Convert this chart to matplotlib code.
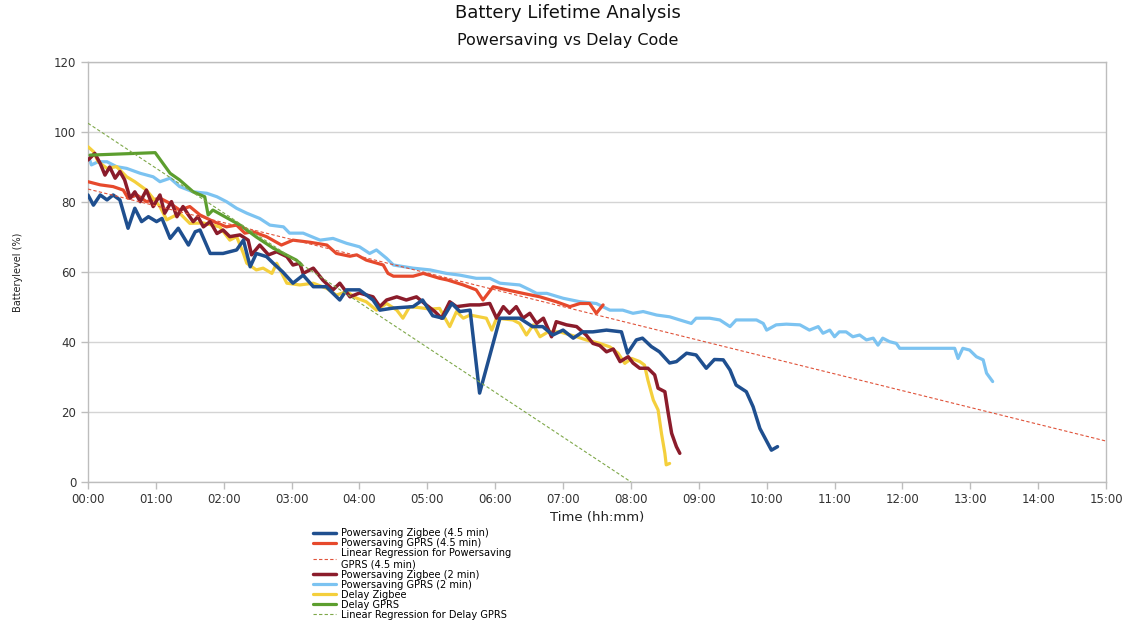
import matplotlib
matplotlib.use("Agg")
import matplotlib.pyplot as plt
import numpy as np

# (hours, battery %)
ps_zigbee_45 = [
    (0.00, 82.0), (0.08, 79.1), (0.18, 82.0), (0.28, 80.6), (0.37, 82.0), (0.47, 80.6),
    (0.59, 72.5), (0.69, 78.2), (0.79, 74.4), (0.89, 75.8), (1.01, 74.4), (1.09, 75.3),
    (1.21, 69.6), (1.33, 72.5), (1.48, 67.7), (1.58, 71.5), (1.65, 72.0), (1.80, 65.3),
    (1.99, 65.3), (2.19, 66.3), (2.29, 69.1), (2.39, 61.5), (2.48, 65.3), (2.63, 64.4),
    (2.73, 62.5), (2.87, 60.0), (3.02, 56.8), (3.17, 59.1), (3.32, 55.8), (3.51, 55.8),
    (3.71, 52.0), (3.81, 54.9), (4.00, 54.9), (4.20, 52.0), (4.30, 49.1), (4.50, 49.7),
    (4.79, 50.1), (4.93, 52.0), (5.08, 47.5), (5.23, 46.8), (5.36, 51.0), (5.48, 48.7),
    (5.63, 49.1), (5.77, 25.4), (6.07, 46.8), (6.36, 46.8), (6.55, 44.4), (6.70, 44.4),
    (6.85, 42.0), (7.00, 43.4), (7.15, 41.1), (7.29, 42.9), (7.44, 42.9), (7.64, 43.4),
    (7.86, 42.9), (7.95, 36.8), (8.08, 40.6), (8.17, 41.1), (8.30, 38.7), (8.42, 37.2),
    (8.57, 34.0), (8.67, 34.4), (8.82, 36.8), (8.96, 36.3), (9.11, 32.5), (9.23, 35.0),
    (9.36, 34.9), (9.46, 32.0), (9.55, 27.7), (9.70, 25.8), (9.80, 21.5), (9.90, 15.3),
    (10.07, 9.1), (10.16, 10.1),
]

ps_gprs_45 = [
    (0.00, 85.8), (0.18, 84.9), (0.37, 84.4), (0.52, 83.4), (0.59, 81.1), (0.72, 82.0),
    (0.86, 80.1), (1.06, 81.1), (1.21, 79.6), (1.35, 77.7), (1.50, 78.7), (1.65, 76.3),
    (1.85, 74.4), (2.04, 72.9), (2.19, 73.4), (2.31, 71.1), (2.43, 71.5), (2.63, 70.1),
    (2.85, 67.7), (3.02, 69.1), (3.27, 68.5), (3.52, 67.7), (3.66, 65.3), (3.86, 64.5),
    (3.96, 64.9), (4.10, 63.4), (4.35, 62.0), (4.42, 59.6), (4.50, 58.8), (4.79, 58.8),
    (4.94, 59.6), (5.18, 58.2), (5.30, 57.7), (5.53, 56.3), (5.72, 54.9), (5.82, 52.0),
    (5.97, 55.8), (6.17, 54.9), (6.41, 53.9), (6.66, 52.9), (6.90, 51.5), (7.10, 50.1),
    (7.25, 51.0), (7.39, 51.0), (7.49, 48.2), (7.59, 50.6),
]

ps_zigbee_2 = [
    (0.00, 92.0), (0.10, 93.9), (0.18, 91.0), (0.25, 87.7), (0.32, 90.0), (0.40, 86.8),
    (0.47, 88.7), (0.54, 86.3), (0.62, 81.1), (0.69, 82.9), (0.77, 80.1), (0.86, 83.4),
    (0.96, 78.7), (1.06, 82.0), (1.13, 76.8), (1.23, 80.1), (1.31, 75.8), (1.40, 78.7),
    (1.48, 76.3), (1.55, 74.4), (1.62, 75.8), (1.70, 72.9), (1.80, 74.4), (1.90, 71.0),
    (1.99, 72.0), (2.09, 70.1), (2.24, 70.6), (2.36, 69.1), (2.41, 64.9), (2.53, 67.7),
    (2.66, 64.9), (2.78, 65.8), (2.93, 64.4), (3.02, 62.0), (3.12, 62.5), (3.17, 59.6),
    (3.32, 61.1), (3.46, 57.7), (3.61, 54.9), (3.71, 56.8), (3.86, 52.9), (4.00, 54.0),
    (4.20, 52.9), (4.30, 50.1), (4.40, 52.0), (4.55, 52.9), (4.69, 52.0), (4.84, 52.9),
    (4.99, 50.5), (5.11, 48.7), (5.21, 46.8), (5.33, 51.5), (5.43, 50.1), (5.63, 50.6),
    (5.77, 50.6), (5.92, 51.0), (6.02, 46.8), (6.12, 50.1), (6.21, 48.2), (6.31, 50.1),
    (6.41, 46.8), (6.51, 48.2), (6.61, 45.3), (6.71, 46.8), (6.83, 41.5), (6.90, 45.8),
    (7.05, 44.9), (7.20, 44.4), (7.34, 42.0), (7.44, 39.6), (7.54, 39.0), (7.64, 37.2),
    (7.74, 38.0), (7.84, 34.4), (7.96, 35.8), (8.03, 34.0), (8.13, 32.5), (8.25, 32.5),
    (8.35, 30.6), (8.40, 26.8), (8.50, 25.8), (8.55, 19.6), (8.60, 13.9), (8.67, 10.1),
    (8.72, 8.2),
]

ps_gprs_2 = [
    (0.00, 93.4), (0.05, 90.6), (0.15, 91.5), (0.28, 91.5), (0.42, 90.1), (0.57, 89.6),
    (0.77, 88.2), (0.96, 87.2), (1.06, 85.8), (1.21, 86.8), (1.35, 84.4), (1.55, 82.9),
    (1.75, 82.5), (1.90, 81.5), (2.04, 80.1), (2.19, 78.2), (2.34, 76.8), (2.53, 75.3),
    (2.68, 73.4), (2.88, 72.9), (2.97, 71.1), (3.17, 71.1), (3.42, 69.1), (3.61, 69.6),
    (3.81, 68.2), (4.00, 67.2), (4.15, 65.3), (4.25, 66.3), (4.40, 63.9), (4.50, 62.0),
    (4.79, 61.1), (5.04, 60.6), (5.28, 59.6), (5.48, 59.1), (5.72, 58.2), (5.92, 58.2),
    (6.07, 56.8), (6.36, 56.3), (6.51, 54.9), (6.61, 53.9), (6.76, 53.9), (7.00, 52.5),
    (7.25, 51.5), (7.49, 51.0), (7.69, 49.1), (7.88, 49.1), (8.03, 48.2), (8.18, 48.7),
    (8.38, 47.7), (8.57, 47.2), (8.72, 46.3), (8.89, 45.3), (8.96, 46.8), (9.16, 46.8),
    (9.31, 46.3), (9.46, 44.4), (9.55, 46.3), (9.85, 46.3), (9.95, 45.3), (10.00, 43.4),
    (10.14, 44.9), (10.29, 45.1), (10.49, 44.9), (10.63, 43.4), (10.76, 44.4), (10.83, 42.5),
    (10.93, 43.4), (11.00, 41.5), (11.07, 42.9), (11.17, 42.9), (11.27, 41.5), (11.37, 42.0),
    (11.47, 40.6), (11.57, 41.1), (11.64, 39.1), (11.71, 41.1), (11.81, 40.1), (11.91, 39.6),
    (11.96, 38.2), (12.06, 38.2), (12.45, 38.2), (12.77, 38.2), (12.82, 35.3), (12.89, 38.2),
    (12.99, 37.7), (13.09, 35.8), (13.19, 34.9), (13.24, 31.1), (13.33, 28.7),
]

delay_zigbee = [
    (0.00, 95.8), (0.08, 94.4), (0.15, 91.5), (0.28, 89.6), (0.42, 90.1), (0.57, 87.2),
    (0.69, 85.8), (0.86, 83.4), (1.06, 78.7), (1.16, 74.9), (1.35, 76.8), (1.50, 73.9),
    (1.70, 74.0), (1.94, 72.9), (2.09, 69.1), (2.19, 70.1), (2.29, 65.3), (2.34, 62.5),
    (2.48, 60.6), (2.58, 61.1), (2.71, 59.6), (2.78, 62.5), (2.93, 56.8), (3.12, 56.3),
    (3.32, 56.8), (3.52, 55.3), (3.66, 53.4), (3.81, 54.4), (3.96, 52.5), (4.10, 51.5),
    (4.25, 49.1), (4.40, 51.0), (4.55, 49.1), (4.64, 46.8), (4.74, 50.1), (4.89, 49.8),
    (5.04, 49.4), (5.18, 49.6), (5.33, 44.4), (5.43, 48.7), (5.53, 46.8), (5.63, 47.7),
    (5.87, 46.8), (5.95, 43.4), (6.02, 46.8), (6.26, 46.3), (6.36, 45.3), (6.46, 42.0),
    (6.56, 44.9), (6.66, 41.5), (6.78, 42.9), (6.95, 42.9), (7.20, 41.5), (7.34, 40.6),
    (7.54, 39.6), (7.69, 38.6), (7.81, 36.8), (7.91, 33.9), (8.01, 35.3), (8.13, 34.4),
    (8.20, 33.4), (8.25, 29.1), (8.33, 23.4), (8.40, 20.6), (8.45, 13.9), (8.50, 8.2),
    (8.52, 4.9), (8.57, 5.3),
]

delay_gprs = [
    (0.03, 93.4), (0.99, 94.1), (1.21, 88.2), (1.35, 86.3), (1.55, 82.9), (1.72, 81.5),
    (1.77, 76.3), (1.84, 77.7), (2.24, 73.4), (2.48, 70.0), (2.73, 66.8), (3.07, 63.4),
    (3.15, 62.0),
]

# linear regressions (intercept, slope per hour)
reg_ps_gprs = (83.7, -4.8)
reg_delay_gprs = (102.5, -12.81)

x_ticks = list(range(16))
x_labels = ["%02d:00" % h for h in x_ticks]
y_ticks = [0, 20, 40, 60, 80, 100, 120]

fig = plt.figure(figsize=(11.35, 6.3), dpi=100)
ax = fig.add_axes([88 / 1135, 1 - 482 / 630, 1018 / 1135, 420 / 630])

def draw(series, color, lw, z, label):
    t = np.array([p[0] for p in series])
    v = np.array([p[1] for p in series])
    return ax.plot(t, v, color=color, lw=lw, zorder=z, label=label,
                   solid_joinstyle="round", solid_capstyle="round")[0]

h1 = draw(ps_zigbee_45, "#1f4f8f", 2.5, 6, "Powersaving Zigbee (4.5 min)")
h2 = draw(ps_gprs_45, "#e6492c", 2.3, 3, "Powersaving GPRS (4.5 min)")

t_end = 15.0
t_reg = np.array([0.0, t_end])
h3, = ax.plot(t_reg, reg_ps_gprs[0] + reg_ps_gprs[1] * t_reg, color="#e0533a",
              lw=0.8, ls=(0, (3, 2)), zorder=8,
              label="Linear Regression for Powersaving\nGPRS (4.5 min)")

h4 = draw(ps_zigbee_2, "#8b1c2b", 2.5, 5, "Powersaving Zigbee (2 min)")
h5 = draw(ps_gprs_2, "#7cc3f1", 2.3, 2, "Powersaving GPRS (2 min)")
h6 = draw(delay_zigbee, "#f4cf3c", 2.3, 4, "Delay Zigbee")
h7 = draw(delay_gprs, "#5c9e2e", 2.3, 7, "Delay GPRS")

t_zero = -reg_delay_gprs[0] / reg_delay_gprs[1]
t_reg2 = np.array([0.0, t_zero])
h8, = ax.plot(t_reg2, reg_delay_gprs[0] + reg_delay_gprs[1] * t_reg2, color="#7fa84a",
              lw=0.8, ls=(0, (3, 2)), zorder=8, label="Linear Regression for Delay GPRS")

ax.set_xlim(0, 15)
ax.set_ylim(0, 120)
ax.set_xticks(x_ticks)
ax.set_xticklabels(x_labels)
ax.set_yticks(y_ticks)
ax.yaxis.grid(True, color="#d4d4d4", lw=1.0, zorder=0)
ax.set_axisbelow(True)
for s in ax.spines.values():
    s.set_color("#bdbdbd")
    s.set_linewidth(1.0)
ax.tick_params(colors="#bdbdbd", labelcolor="#333333", labelsize=8.5, length=5, width=1)
ax.tick_params(axis="x", pad=3)

ax.set_xlabel("Time (hh:mm)", fontsize=9.5, color="#222222")
ax.xaxis.set_label_coords(0.5, -0.068)
ax.set_ylabel("Batterylevel (%)", fontsize=7, color="#222222")
ax.yaxis.set_label_coords(-0.064, 0.5)

fig.text(0.5, 1 - 13 / 630, "Battery Lifetime Analysis", ha="center", va="center",
         fontsize=13, color="#111111")
fig.text(0.5, 1 - 40 / 630, "Powersaving vs Delay Code", ha="center", va="center",
         fontsize=11.5, color="#111111")

handles = [h1, h2, h3, h4, h5, h6, h7, h8]
fig.legend(handles, [h.get_label() for h in handles], loc="upper left",
           bbox_to_anchor=(313 / 1135, 1 - 528 / 630), frameon=False, fontsize=7.1,
           borderaxespad=0, borderpad=0, labelspacing=0.0, handlelength=2.3,
           handletextpad=0.5)

fig.savefig("out.png", dpi=100)
